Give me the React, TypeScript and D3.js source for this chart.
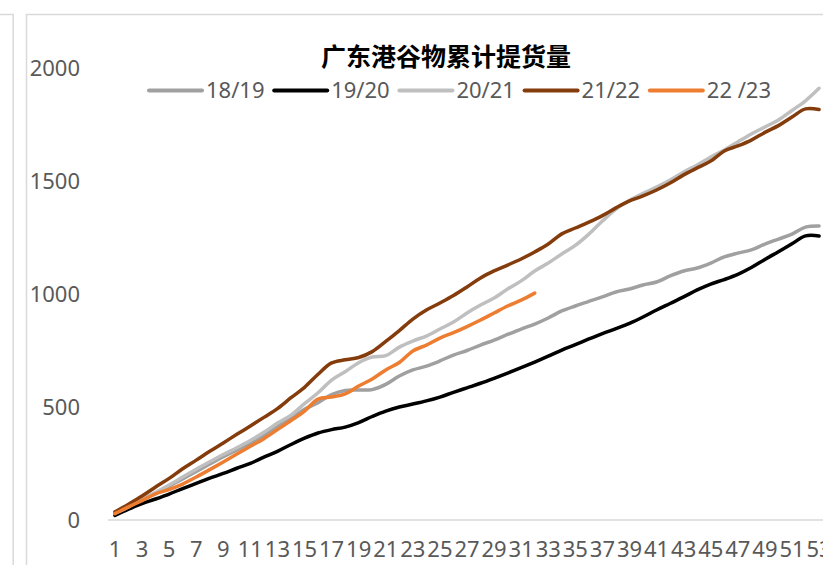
import React from 'react';
import * as d3 from 'd3';

// Week numbers along the category axis
const weeks = [
  1, 2, 3, 4, 5, 6, 7, 8, 9, 10, 11, 12, 13, 14, 15, 16, 17, 18, 19, 20,
  21, 22, 23, 24, 25, 26, 27, 28, 29, 30, 31, 32, 33, 34, 35, 36, 37, 38, 39, 40,
  41, 42, 43, 44, 45, 46, 47, 48, 49, 50, 51, 52, 53,
];

// Cumulative pickup volume per crop year
const s1819 = [
  28, 55, 88, 118, 150, 182, 215, 248, 280, 310, 340, 375, 414, 448, 490, 519, 555, 573, 575, 577,
  600, 637, 664, 681, 704, 730, 750, 774, 796, 821, 845, 867, 894, 925, 947, 967, 987, 1009, 1022, 1040,
  1053, 1080, 1102, 1115, 1137, 1164, 1181, 1195, 1221, 1243, 1265, 1296, 1301,
];
const s1920 = [
  20, 48, 72, 93, 115, 139, 162, 185, 206, 229, 251, 278, 304, 334, 362, 385, 400, 411, 431, 458,
  482, 500, 513, 527, 544, 565, 585, 605, 627, 650, 674, 699, 725, 752, 776, 801, 825, 847, 870, 898,
  929, 958, 987, 1018, 1044, 1064, 1087, 1117, 1153, 1187, 1222, 1257, 1257,
];
const s2021 = [
  30, 58, 92, 122, 155, 190, 225, 258, 290, 320, 352, 388, 429, 464, 515, 563, 619, 656, 696, 721,
  727, 765, 792, 814, 845, 876, 916, 951, 982, 1022, 1058, 1102, 1137, 1177, 1215, 1265, 1323, 1376, 1414, 1445,
  1473, 1504, 1540, 1571, 1606, 1637, 1673, 1708, 1739, 1770, 1812, 1855, 1910,
];
const s2122 = [
  36, 70, 106, 146, 184, 227, 265, 304, 341, 379, 416, 454, 493, 541, 587, 645, 695, 709, 719, 745,
  790, 838, 889, 929, 960, 993, 1031, 1071, 1102, 1128, 1155, 1186, 1221, 1266, 1292, 1318, 1347, 1381, 1412, 1434,
  1460, 1491, 1527, 1558, 1588, 1633, 1655, 1681, 1715, 1745, 1783, 1819, 1816,
];
const s2223 = [
  28, 58, 86, 116, 135, 159, 190, 223, 257, 292, 326, 360, 400, 440, 482, 535, 544, 558, 593, 624,
  664, 697, 748, 774, 805, 829, 856, 885, 916, 947, 973, 1004,
];

const seriesNames = ['18/19', '19/20', '20/21', '21/22', '22 /23'];
const seriesValues = [s1819, s1920, s2021, s2122, s2223];
const seriesColors = ['#a0a0a0', '#000000', '#bfbfbf', '#843c0c', '#ed7d31'];

const yTicks = [0, 500, 1000, 1500, 2000];
const xTickWeeks = weeks.filter((w) => w % 2 === 1);

const W = 823;
const H = 565;
const BAND = 13.54;
const PLOT_LEFT = 108.2;

const LABEL_FONT = '"Noto Sans", sans-serif';
const TITLE_FONT = '"Noto Sans CJK SC", sans-serif';
const LABEL_COLOR = '#595959';
const FRAME = '#d9d9d9';

export default function App() {
  const x = d3
    .scaleBand<number>()
    .domain(weeks)
    .range([PLOT_LEFT, PLOT_LEFT + weeks.length * BAND])
    .padding(0);
  const cx = (w: number) => (x(w) as number) + x.bandwidth() / 2;
  const y = d3.scaleLinear().domain([0, 2000]).range([520, 68]);

  const line = d3
    .line<number>()
    .x((_, i) => cx(weeks[i]))
    .y((d) => y(d))
    .curve(d3.curveCatmullRom.alpha(0.5));

  const legendX0 = 149;
  const legendStep = 125.2;
  const legendY = 90.5;

  return (
    <svg
      width={W}
      height={H}
      viewBox={`0 0 ${W} ${H}`}
      style={{ position: 'absolute', left: 0, top: 0, background: '#ffffff' }}
    >
      <rect x={0} y={0} width={W} height={H} fill="#ffffff" />

      {/* panel frames */}
      <g stroke={FRAME} strokeWidth={1.5} fill="none">
        <path d={`M0,14.5 H13.2 V${H}`} />
        <path d={`M26.5,${H} V14.5 H${W}`} />
      </g>

      {/* category axis line */}
      <line x1={PLOT_LEFT} x2={W} y1={y(0)} y2={y(0)} stroke={FRAME} strokeWidth={1.5} />

      {/* value axis labels */}
      <g fontFamily={LABEL_FONT} fontSize={22} fill={LABEL_COLOR} textAnchor="end">
        {yTicks.map((t) => (
          <text key={t} x={80} y={y(t)} dy="0.36em">
            {t}
          </text>
        ))}
      </g>

      {/* category labels */}
      <g fontFamily={LABEL_FONT} fontSize={22} fill={LABEL_COLOR} textAnchor="middle">
        {xTickWeeks.map((w) => (
          <text key={w} x={cx(w)} y={557}>
            {w}
          </text>
        ))}
      </g>

      {/* series */}
      <g fill="none" strokeWidth={3.5} strokeLinejoin="round" strokeLinecap="round">
        {seriesValues.map((vals, i) => (
          <path key={seriesNames[i]} d={line(vals) ?? ''} stroke={seriesColors[i]} />
        ))}
      </g>

      {/* title */}
      <text
        x={446}
        y={66}
        textAnchor="middle"
        fontFamily={TITLE_FONT}
        fontWeight={700}
        fontSize={25}
        fill="#000000"
      >
        广东港谷物累计提货量
      </text>

      {/* legend */}
      <g fontFamily={LABEL_FONT} fontSize={22} fill={LABEL_COLOR}>
        {seriesNames.map((name, i) => {
          const lx = legendX0 + i * legendStep;
          return (
            <g key={name}>
              <line
                x1={lx}
                x2={lx + 53}
                y1={legendY}
                y2={legendY}
                stroke={seriesColors[i]}
                strokeWidth={4}
                strokeLinecap="round"
              />
              <text x={lx + 57} y={legendY} dy="0.36em">
                {name}
              </text>
            </g>
          );
        })}
      </g>
    </svg>
  );
}
